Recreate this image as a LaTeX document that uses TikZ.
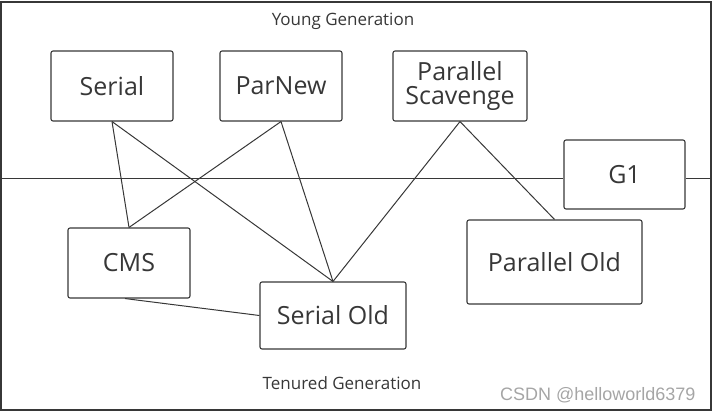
\documentclass[tikz,border=0pt]{standalone}
\usepackage{fontspec}
\setmainfont{Open Sans}
\newfontfamily\markfont{Liberation Sans}
\usepackage{xcolor}
\usepackage{tikz}
\usetikzlibrary{positioning}
\definecolor{inkgray}{RGB}{55, 55, 55}
\definecolor{markgray}{RGB}{165, 165, 165}

\begin{document}
\begin{tikzpicture}[
  x=1pt, y=-1pt,
  gc/.style={draw=inkgray, line width=1.1pt, rounded corners=2pt,
    minimum width=122pt, minimum height=70pt, align=center,
    text=inkgray, font=\fontsize{25}{27}\selectfont, inner sep=0pt},
  region/.style={text=inkgray, font=\fontsize{17}{19}\selectfont},
  link/.style={draw=inkgray, line width=1pt}
]
\useasboundingbox (0,0) rectangle (715,412);
\node[draw=inkgray, line width=1.4pt, minimum width=710pt, minimum height=408pt,
  inner sep=0pt] (heap) at (356,206) {};

\node[region] (young) at (343,21) {Young Generation};
\node[region] (tenured) at (342,383) {Tenured Generation};

\node[gc] (serial) at (112,86) {Serial};
\node[gc] (parnew) at (281,86) {ParNew};
\node[gc, minimum width=134pt] (scavenge) at (460,86) {Parallel\\[-3pt]Scavenge};
\node[gc, minimum width=121pt, minimum height=69pt] (g1) at (624.5,174.5) {G1};
\node[gc] (cms) at (129,263) {CMS};
\node[gc, minimum width=146pt, minimum height=67pt] (serialold) at (333,315.5) {Serial Old};
\node[gc, minimum width=175pt, minimum height=84pt] (parold) at (554.5,262) {Parallel Old};

% young / tenured split
\coordinate (split) at (0,178);
\draw[link] (heap.west |- split) -- (g1.west |- split);
\draw[link] (g1.east |- split) -- (heap.east |- split);

\draw[link] (serial.south) -- (cms.north);
\draw[link] (serial.south) -- (serialold.north);
\draw[link] (parnew.south) -- (cms.north);
\draw[link] (parnew.south) -- (serialold.north);
\draw[link] (scavenge.south) -- (serialold.north);
\draw[link] (scavenge.south) -- (parold.north);
\draw[link] ([xshift=-4pt]cms.south) -- (serialold.west);

\node[text=markgray, font=\markfont\fontsize{18}{20}\selectfont, anchor=east]
  (mark) at (699,395) {CSDN @helloworld6379};
\end{tikzpicture}
\end{document}
